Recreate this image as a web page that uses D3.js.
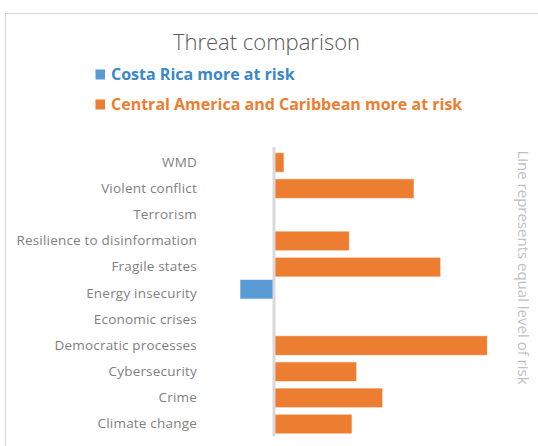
<!DOCTYPE html>
<html>
<head>
<meta charset="utf-8">
<script src="https://cdn.jsdelivr.net/npm/d3@7/dist/d3.min.js"></script>
<style>
  html, body { margin: 0; padding: 0; background: #ffffff; }
  svg { display: block; }
  text { font-family: "Open Sans", "Segoe UI", sans-serif; }
</style>
</head>
<body>
<svg id="chart" width="538" height="446"></svg>
<script>
// Threat categories, top to bottom
const categories = [
  "WMD",
  "Violent conflict",
  "Terrorism",
  "Resilience to disinformation",
  "Fragile states",
  "Energy insecurity",
  "Economic crises",
  "Democratic processes",
  "Cybersecurity",
  "Crime",
  "Climate change"
];
// Difference in risk level: positive = region more at risk, negative = Costa Rica more at risk
const riskGap = [0.15, 2.1, 0, 1.13, 2.5, -0.51, 0, 3.2, 1.24, 1.63, 1.17];
const seriesNames = ["Costa Rica more at risk", "Central America and Caribbean more at risk"];
const seriesColors = ["#5b9bd5", "#ed7d31"];
const legendTextColors = ["#3a87c9", "#ed7d31"];

const svg = d3.select("#chart");
const W = 538, H = 446;

// chart frame (top and left edges visible)
svg.append("line").attr("x1", 5).attr("x2", W).attr("y1", 13.5).attr("y2", 13.5)
  .attr("stroke", "#d9d9d9").attr("stroke-width", 1);
svg.append("line").attr("x1", 5.5).attr("x2", 5.5).attr("y1", 13).attr("y2", H)
  .attr("stroke", "#d9d9d9").attr("stroke-width", 1);

// title
svg.append("text")
  .attr("x", 266.5).attr("y", 50)
  .attr("text-anchor", "middle")
  .attr("font-size", 22)
  .attr("font-weight", 300)
  .attr("fill", "#595959")
  .text("Threat comparison");

// legend
const legend = svg.append("g");
seriesNames.forEach((name, i) => {
  const ly = 74.5 + i * 30;
  legend.append("rect")
    .attr("x", 95.5).attr("y", ly - 5)
    .attr("width", 9.5).attr("height", 10)
    .attr("fill", seriesColors[i]);
  legend.append("text")
    .attr("x", 111).attr("y", ly)
    .attr("dy", "0.36em")
    .attr("font-size", 16)
    .attr("font-weight", 700)
    .attr("fill", legendTextColors[i])
    .text(name);
});

// scales
const x = d3.scaleLinear().domain([-0.6, 3.4]).range([234, 500.7]);
const y = d3.scaleBand().domain(categories).range([149.4, 437.1]).paddingInner(0.25).paddingOuter(0.125);
const seriesShift = [-4, 0];

// bars
const rows = categories.map((c, i) => ({ cat: c, v: riskGap[i] })).filter(d => d.v !== 0);
svg.append("g").selectAll("rect")
  .data(rows)
  .join("rect")
  .attr("x", d => x(Math.min(0, d.v)))
  .attr("width", d => Math.abs(x(d.v) - x(0)))
  .attr("y", d => y(d.cat) + (d.v < 0 ? seriesShift[0] : seriesShift[1]))
  .attr("height", y.bandwidth())
  .attr("fill", d => d.v < 0 ? seriesColors[0] : seriesColors[1])
  .attr("stroke", "#ffffff")
  .attr("stroke-opacity", 0.6)
  .attr("stroke-width", 1);

// category labels
const yAxis = d3.axisLeft(y).tickSize(0).tickPadding(0);
const axisG = svg.append("g").attr("transform", "translate(197,0)").call(yAxis);
axisG.select(".domain").remove();
axisG.selectAll("text")
  .attr("font-size", 13.5)
  .attr("letter-spacing", 0.2)
  .attr("fill", "#7f7f7f")
  .attr("font-family", "\"Open Sans\", sans-serif");

// equal-risk reference line at zero
svg.append("line")
  .attr("x1", x(0)).attr("x2", x(0))
  .attr("y1", 147).attr("y2", 436)
  .attr("stroke", "#d9d9d9").attr("stroke-width", 3);

// side note
svg.append("text")
  .attr("transform", "translate(523,267.5) rotate(90)")
  .attr("text-anchor", "middle")
  .attr("dy", "0.35em")
  .attr("font-size", 15)
  .attr("fill", "#bfbfbf")
  .text("Line represents equal level of risk");
</script>
</body>
</html>
